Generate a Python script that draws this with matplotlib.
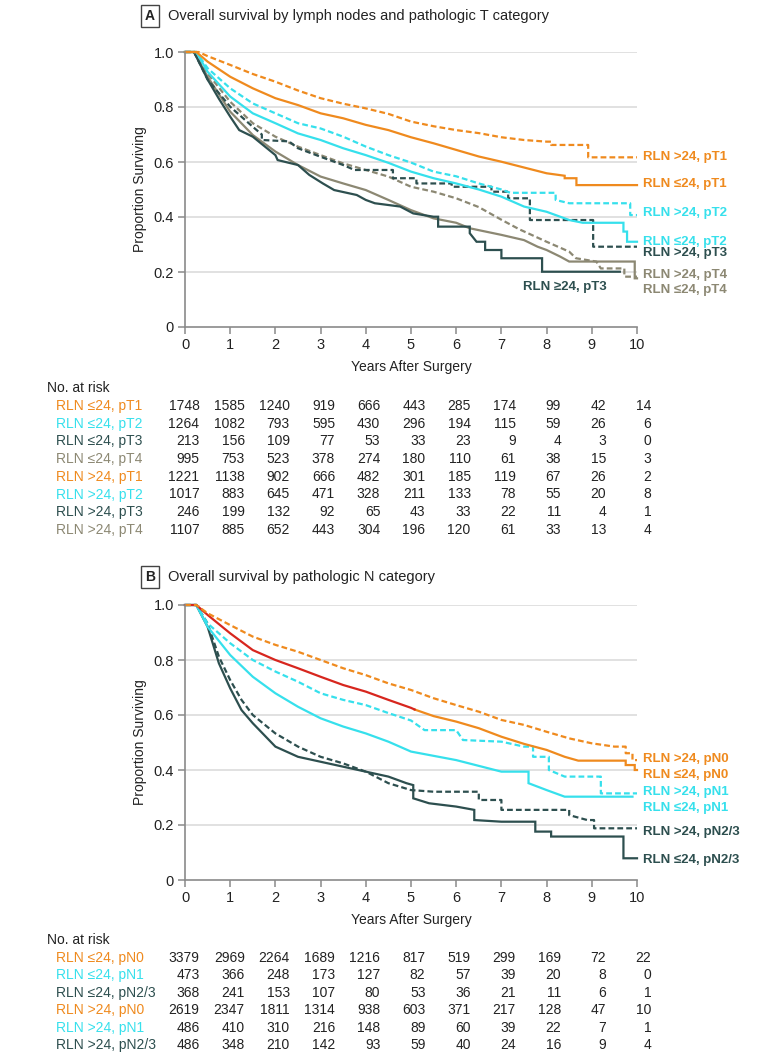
import numpy as np
import matplotlib.pyplot as plt
from matplotlib import transforms

plt.rcParams['font.family'] = ['Liberation Sans', 'DejaVu Sans']

ORANGE = '#EF8A1E'
CYAN = '#36E0EC'
DARK = '#2D4F4F'
GRAY = '#8C8873'
RED = '#D7261E'

years = list(range(0, 11))

# ---- Panel A curves ----
a_le_t1_t = [0, 0.25, 0.5, 1, 1.5, 2, 2.5, 3, 3.5, 4, 4.5, 5, 5.5, 6, 6.5, 7, 7.5, 8, 8.4, 8.4, 8.66, 8.66, 10]
a_le_t1_s = [1, 1, 0.965, 0.91, 0.868, 0.832, 0.807, 0.777, 0.759, 0.735, 0.716, 0.690, 0.668, 0.644, 0.62, 0.601, 0.58, 0.559, 0.55, 0.541, 0.541, 0.516, 0.516]

a_gt_t1_t = [0, 0.3, 0.5, 1, 1.5, 2, 2.5, 3, 3.5, 4, 4.5, 5, 5.5, 6, 6.5, 7, 7.5, 8, 8.1, 8.1, 8.92, 8.92, 10]
a_gt_t1_s = [1, 1, 0.985, 0.953, 0.92, 0.892, 0.86, 0.832, 0.812, 0.795, 0.775, 0.747, 0.73, 0.716, 0.705, 0.69, 0.68, 0.674, 0.674, 0.662, 0.662, 0.617, 0.617]

a_le_t2_t = [0, 0.25, 0.5, 1, 1.5, 2, 2.5, 3, 3.5, 4, 4.5, 5, 5.5, 6, 6.5, 7, 7.5, 8, 8.5, 8.8, 9.7, 9.7, 9.78, 9.78, 10]
a_le_t2_s = [1, 1, 0.928, 0.838, 0.777, 0.741, 0.704, 0.680, 0.650, 0.625, 0.597, 0.565, 0.541, 0.522, 0.5, 0.474, 0.438, 0.419, 0.389, 0.379, 0.379, 0.347, 0.347, 0.31, 0.31]

a_gt_t2_t = [0, 0.25, 0.5, 1, 1.5, 2, 2.5, 3, 3.5, 4, 4.5, 5, 5.5, 6, 6.5, 7, 7.2, 8.2, 8.2, 8.5, 9.85, 9.85, 10]
a_gt_t2_s = [1, 1, 0.941, 0.868, 0.813, 0.777, 0.741, 0.722, 0.692, 0.656, 0.625, 0.598, 0.565, 0.548, 0.522, 0.5, 0.488, 0.488, 0.462, 0.45, 0.45, 0.407, 0.407]

a_le_t3_t = [0, 0.2, 0.5, 0.75, 1.0, 1.2, 1.5, 2.0, 2.05, 2.5, 2.75, 3.05, 3.3, 3.8, 4.0, 4.2, 4.76, 5.05, 5.5, 5.6, 5.6, 6.3, 6.3, 6.45, 6.64, 6.64, 7.0, 7.0, 7.9, 7.9, 9.62]
a_le_t3_s = [1, 1, 0.9, 0.83, 0.765, 0.716, 0.692, 0.625, 0.607, 0.589, 0.553, 0.522, 0.498, 0.48, 0.462, 0.45, 0.438, 0.413, 0.401, 0.401, 0.365, 0.365, 0.341, 0.31, 0.31, 0.28, 0.28, 0.25, 0.25, 0.201, 0.201]

a_gt_t3_t = [0, 0.2, 0.5, 1, 1.5, 1.7, 1.7, 2.3, 2.5, 3, 3.5, 3.75, 4.6, 4.6, 5.12, 5.12, 5.9, 5.9, 6.78, 6.78, 7.15, 7.15, 7.63, 7.63, 9.03, 9.03, 10]
a_gt_t3_s = [1, 1, 0.9, 0.801, 0.728, 0.70, 0.68, 0.675, 0.650, 0.619, 0.589, 0.571, 0.571, 0.541, 0.541, 0.522, 0.522, 0.51, 0.51, 0.492, 0.492, 0.468, 0.468, 0.389, 0.389, 0.292, 0.292]

a_le_t4_t = [0, 0.2, 0.5, 1, 1.5, 2, 2.5, 3, 3.5, 4, 4.5, 5, 5.5, 6, 6.3, 7, 7.5, 7.8, 8, 8.3, 8.5, 9.95, 9.95, 10]
a_le_t4_s = [1, 1, 0.91, 0.783, 0.698, 0.638, 0.589, 0.547, 0.522, 0.498, 0.462, 0.425, 0.395, 0.379, 0.359, 0.335, 0.316, 0.292, 0.28, 0.256, 0.238, 0.238, 0.177, 0.177]

a_gt_t4_t = [0, 0.2, 0.5, 1, 1.5, 2, 2.5, 3, 3.5, 4, 4.5, 5, 5.5, 6, 6.5, 7, 7.4, 8, 8.5, 8.65, 9.1, 9.2, 9.72, 9.72, 10]
a_gt_t4_s = [1, 1, 0.922, 0.819, 0.741, 0.692, 0.656, 0.625, 0.595, 0.571, 0.547, 0.51, 0.492, 0.468, 0.436, 0.39, 0.355, 0.31, 0.274, 0.25, 0.238, 0.213, 0.213, 0.183, 0.183]

# ---- Panel B curves ----
b_le_n0_t = [0, 0.25, 0.5, 1, 1.5, 2, 2.5, 3, 3.5, 4, 4.5, 5, 5.08, 5.5, 6, 6.5, 7, 7.5, 8, 8.4, 8.7, 9.75, 9.75, 9.95, 9.95, 10]
b_le_n0_s = [1, 1, 0.964, 0.897, 0.836, 0.8, 0.77, 0.739, 0.709, 0.685, 0.655, 0.626, 0.62, 0.596, 0.576, 0.552, 0.521, 0.495, 0.473, 0.448, 0.434, 0.434, 0.418, 0.418, 0.4, 0.4]
b_red_until = 5.08

b_gt_n0_t = [0, 0.25, 0.5, 1, 1.5, 2, 2.5, 3, 3.5, 4, 4.5, 5, 5.5, 6, 6.5, 7, 7.5, 8, 8.5, 9, 9.5, 9.75, 9.75, 9.9, 9.9, 10]
b_gt_n0_s = [1, 1, 0.97, 0.927, 0.885, 0.855, 0.83, 0.8, 0.77, 0.745, 0.715, 0.691, 0.661, 0.636, 0.612, 0.582, 0.564, 0.539, 0.515, 0.497, 0.485, 0.485, 0.461, 0.461, 0.436, 0.436]

b_le_n1_t = [0, 0.25, 0.5, 1, 1.5, 2, 2.5, 3, 3.5, 4, 4.5, 5, 6, 7, 7.6, 7.6, 8, 8.4, 9.9]
b_le_n1_s = [1, 1, 0.921, 0.818, 0.739, 0.679, 0.63, 0.588, 0.558, 0.533, 0.503, 0.467, 0.436, 0.394, 0.394, 0.352, 0.327, 0.303, 0.303]

b_gt_n1_t = [0, 0.25, 0.5, 1, 1.5, 2, 2.5, 3, 3.5, 4, 4.5, 5, 5.3, 6, 6.15, 7, 7.5, 7.7, 7.7, 8.05, 8.05, 8.4, 9.2, 9.2, 10]
b_gt_n1_s = [1, 1, 0.933, 0.861, 0.8, 0.758, 0.721, 0.679, 0.655, 0.636, 0.607, 0.58, 0.545, 0.545, 0.509, 0.503, 0.485, 0.485, 0.448, 0.448, 0.4, 0.376, 0.376, 0.315, 0.315]

b_le_n23_t = [0, 0.25, 0.5, 0.75, 1, 1.25, 1.5, 2, 2.5, 3, 3.5, 4, 4.5, 4.9, 5.05, 5.05, 5.4, 6.0, 6.4, 6.4, 7.0, 7.75, 7.75, 8.1, 8.1, 9.7, 9.7, 10]
b_le_n23_s = [1, 1, 0.921, 0.788, 0.697, 0.618, 0.57, 0.485, 0.448, 0.43, 0.412, 0.394, 0.376, 0.352, 0.345, 0.297, 0.279, 0.267, 0.255, 0.218, 0.212, 0.212, 0.176, 0.176, 0.158, 0.158, 0.079, 0.079]

b_gt_n23_t = [0, 0.25, 0.5, 0.75, 1, 1.25, 1.5, 2, 2.5, 3, 3.5, 4, 4.5, 5, 5.5, 6.5, 6.5, 7, 7, 8.5, 8.5, 8.9, 9.05, 9.05, 10]
b_gt_n23_s = [1, 1, 0.933, 0.812, 0.727, 0.655, 0.6, 0.533, 0.485, 0.448, 0.424, 0.394, 0.352, 0.327, 0.321, 0.321, 0.291, 0.291, 0.255, 0.255, 0.236, 0.218, 0.218, 0.188, 0.188]

# ---- Number at risk ----
a_risk_labels = ['RLN \u226424, pT1', 'RLN \u226424, pT2', 'RLN \u226424, pT3', 'RLN \u226424, pT4',
                 'RLN >24, pT1', 'RLN >24, pT2', 'RLN >24, pT3', 'RLN >24, pT4']
a_risk_colors = [ORANGE, CYAN, DARK, GRAY, ORANGE, CYAN, DARK, GRAY]
a_risk = [
    [1748, 1585, 1240, 919, 666, 443, 285, 174, 99, 42, 14],
    [1264, 1082, 793, 595, 430, 296, 194, 115, 59, 26, 6],
    [213, 156, 109, 77, 53, 33, 23, 9, 4, 3, 0],
    [995, 753, 523, 378, 274, 180, 110, 61, 38, 15, 3],
    [1221, 1138, 902, 666, 482, 301, 185, 119, 67, 26, 2],
    [1017, 883, 645, 471, 328, 211, 133, 78, 55, 20, 8],
    [246, 199, 132, 92, 65, 43, 33, 22, 11, 4, 1],
    [1107, 885, 652, 443, 304, 196, 120, 61, 33, 13, 4],
]

b_risk_labels = ['RLN \u226424, pN0', 'RLN \u226424, pN1', 'RLN \u226424, pN2/3',
                 'RLN >24, pN0', 'RLN >24, pN1', 'RLN >24, pN2/3']
b_risk_colors = [ORANGE, CYAN, DARK, ORANGE, CYAN, DARK]
b_risk = [
    [3379, 2969, 2264, 1689, 1216, 817, 519, 299, 169, 72, 22],
    [473, 366, 248, 173, 127, 82, 57, 39, 20, 8, 0],
    [368, 241, 153, 107, 80, 53, 36, 21, 11, 6, 1],
    [2619, 2347, 1811, 1314, 938, 603, 371, 217, 128, 47, 10],
    [486, 410, 310, 216, 148, 89, 60, 39, 22, 7, 1],
    [486, 348, 210, 142, 93, 59, 40, 24, 16, 9, 4],
]

W, H = 780, 1063
fig = plt.figure(figsize=(W / 100, H / 100), dpi=100)
TXT = '#222222'
FS = 10


def px(x, y):
    return x / W, 1 - y / H


def make_axes(top):
    left, right, bottom = 185, 637, top + 275
    ax = fig.add_axes([left / W, 1 - bottom / H, (right - left) / W, 275 / H])
    ax.set_xlim(0, 10)
    ax.set_ylim(0, 1.0)
    ax.set_xticks(years)
    ax.set_yticks([0, 0.2, 0.4, 0.6, 0.8, 1.0])
    ax.set_yticklabels(['0', '0.2', '0.4', '0.6', '0.8', '1.0'])
    for s in ['top', 'right']:
        ax.spines[s].set_visible(False)
    for s in ['left', 'bottom']:
        ax.spines[s].set_color('#8a8a8a')
        ax.spines[s].set_linewidth(1.2)
    ax.tick_params(colors='#8a8a8a', labelcolor=TXT, labelsize=10.5, length=5, width=1.1, pad=3)
    for y in [0.2, 0.4, 0.6, 0.8, 1.0]:
        ax.axhline(y, color='#dcdcdc', lw=1.2, zorder=0)
    ax.set_xlabel('Years After Surgery', fontsize=FS, color=TXT, labelpad=6)
    ax.set_ylabel('Proportion Surviving', fontsize=FS, color=TXT, labelpad=5)
    return ax


def title(y, letter, text):
    fig.text(*px(150, y), letter, ha='center', va='center', fontsize=10, fontweight='bold',
             color=TXT, bbox=dict(boxstyle='square,pad=0.3', fc='white', ec='#444444', lw=1))
    fig.text(*px(168, y), text, ha='left', va='center', fontsize=10.5, color=TXT)


def curve(ax, t, s, color, dashed=False):
    ls = (0, (2.6, 1.4)) if dashed else '-'
    ax.plot(t, s, color=color, lw=1.6, ls=ls, solid_joinstyle='miter', clip_on=False)


def risk_table(ax, ytop, labels, colors, rows, gap):
    tr = transforms.blended_transform_factory(ax.transData, fig.transFigure)
    fig.text(*px(47, ytop - 18), 'No. at risk', ha='left', va='center', fontsize=FS, color=TXT)
    for i, (lab, col, row) in enumerate(zip(labels, colors, rows)):
        y = 1 - (ytop + i * gap) / H
        fig.text(56 / W, y, lab, ha='left', va='center', fontsize=FS, color=col)
        for t, n in zip(years, row):
            ax.text(t + 0.32, y, str(n), transform=tr, ha='right', va='center',
                    fontsize=FS, color=TXT)


def end_label(ax, x, y, lab, col, ha='left'):
    ax.text(x, y, lab, color=col, fontsize=9.5, fontweight='bold', ha=ha, va='center', clip_on=False)


# ---------------- Panel A ----------------
title(16, 'A', 'Overall survival by lymph nodes and pathologic T category')
axA = make_axes(52)
curve(axA, a_le_t4_t, a_le_t4_s, GRAY)
curve(axA, a_gt_t4_t, a_gt_t4_s, GRAY, True)
curve(axA, a_le_t3_t, a_le_t3_s, DARK)
curve(axA, a_gt_t3_t, a_gt_t3_s, DARK, True)
curve(axA, a_le_t2_t, a_le_t2_s, CYAN)
curve(axA, a_gt_t2_t, a_gt_t2_s, CYAN, True)
curve(axA, a_le_t1_t, a_le_t1_s, ORANGE)
curve(axA, a_gt_t1_t, a_gt_t1_s, ORANGE, True)

a_end_labels = [('RLN >24, pT1', ORANGE, 0.618), ('RLN \u226424, pT1', ORANGE, 0.52),
                ('RLN >24, pT2', CYAN, 0.415), ('RLN \u226424, pT2', CYAN, 0.309),
                ('RLN >24, pT3', DARK, 0.27), ('RLN >24, pT4', GRAY, 0.19),
                ('RLN \u226424, pT4', GRAY, 0.135)]
for lab, col, y in a_end_labels:
    end_label(axA, 10.13, y, lab, col)
end_label(axA, 8.4, 0.145, 'RLN \u226524, pT3', DARK, ha='center')

risk_table(axA, 406, a_risk_labels, a_risk_colors, a_risk, 17.7)

# ---------------- Panel B ----------------
title(577, 'B', 'Overall survival by pathologic N category')
axB = make_axes(605)
curve(axB, b_le_n23_t, b_le_n23_s, DARK)
curve(axB, b_gt_n23_t, b_gt_n23_s, DARK, True)
curve(axB, b_le_n1_t, b_le_n1_s, CYAN)
curve(axB, b_gt_n1_t, b_gt_n1_s, CYAN, True)
tn0 = np.array(b_le_n0_t)
sn0 = np.array(b_le_n0_s)
curve(axB, tn0[tn0 >= b_red_until], sn0[tn0 >= b_red_until], ORANGE)
curve(axB, tn0[tn0 <= b_red_until], sn0[tn0 <= b_red_until], RED)
curve(axB, b_gt_n0_t, b_gt_n0_s, ORANGE, True)

b_end_labels = [('RLN >24, pN0', ORANGE, 0.44), ('RLN \u226424, pN0', ORANGE, 0.382),
                ('RLN >24, pN1', CYAN, 0.32), ('RLN \u226424, pN1', CYAN, 0.262),
                ('RLN >24, pN2/3', DARK, 0.175), ('RLN \u226424, pN2/3', DARK, 0.073)]
for lab, col, y in b_end_labels:
    end_label(axB, 10.13, y, lab, col)

risk_table(axB, 958, b_risk_labels, b_risk_colors, b_risk, 17.4)

fig.savefig('out.png', dpi=100)
